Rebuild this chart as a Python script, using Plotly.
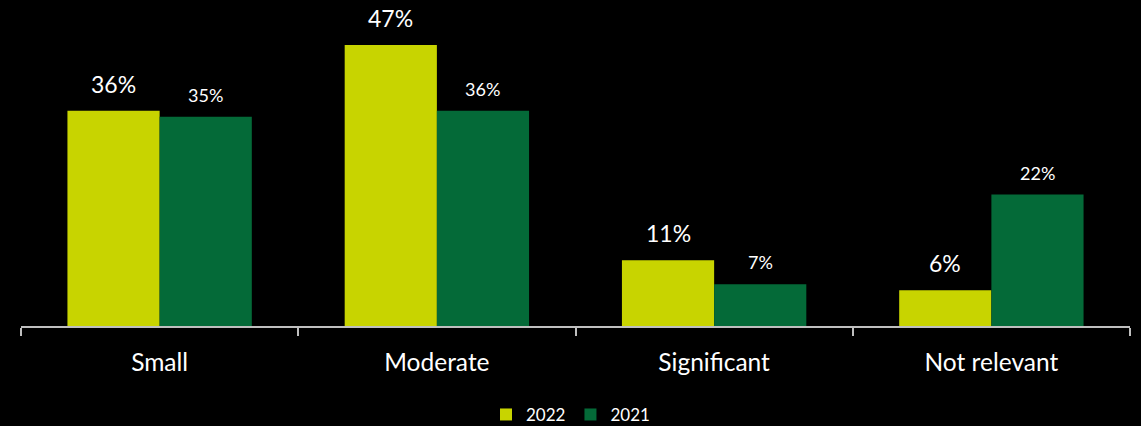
import plotly.graph_objects as go

categories = ["Small", "Moderate", "Significant", "Not relevant"]
values_2022 = [36, 47, 11, 6]
values_2021 = [35, 36, 7, 22]
labels_2022 = ["36%", "47%", "11%", "6%"]
labels_2021 = ["35%", "36%", "7%", "22%"]

C2022 = "#C8D400"
C2021 = "#046A38"
FONT = "Lato"

fig = go.Figure()
fig.add_trace(go.Bar(x=categories, y=values_2022, name="2022", marker=dict(color=C2022, line=dict(width=0))))
fig.add_trace(go.Bar(x=categories, y=values_2021, name="2021", marker=dict(color=C2021, line=dict(width=0))))

annotations = []
for c, v, t in zip(categories, values_2022, labels_2022):
    annotations.append(dict(x=c, y=v, text=t, xref="x", yref="y", xshift=-46, yshift=27,
                            showarrow=False, font=dict(family=FONT, size=23, color="white")))
for c, v, t in zip(categories, values_2021, labels_2021):
    annotations.append(dict(x=c, y=v, text=t, xref="x", yref="y", xshift=46, yshift=22,
                            showarrow=False, font=dict(family=FONT, size=18, color="white")))

fig.update_layout(
    width=1141, height=426,
    paper_bgcolor="black", plot_bgcolor="black",
    margin=dict(l=21, r=11, t=20, b=100, autoexpand=False),
    barmode="group", bargap=0.335, bargroupgap=0,
    font=dict(family=FONT, color="white"),
    showlegend=True,
    legend=dict(orientation="h", x=0.5, xanchor="center", xref="container",
                y=0.026, yanchor="middle", yref="container",
                font=dict(family=FONT, size=17, color="white"), itemwidth=30),
    annotations=annotations,
    xaxis=dict(showline=True, linecolor="#BFBFBF", linewidth=2, ticks="outside", tickson="boundaries",
               ticklen=8, tickcolor="#BFBFBF", tickwidth=2, showgrid=False,
               ticklabelstandoff=14, automargin=False,
               tickfont=dict(family=FONT, size=24.5, color="white")),
    yaxis=dict(range=[0, 51.2], visible=False, showgrid=False, zeroline=False),
)
fig.write_html("out.html", config={"displayModeBar": False},
               post_script="document.body.style.margin='0';document.body.style.background='black';")
